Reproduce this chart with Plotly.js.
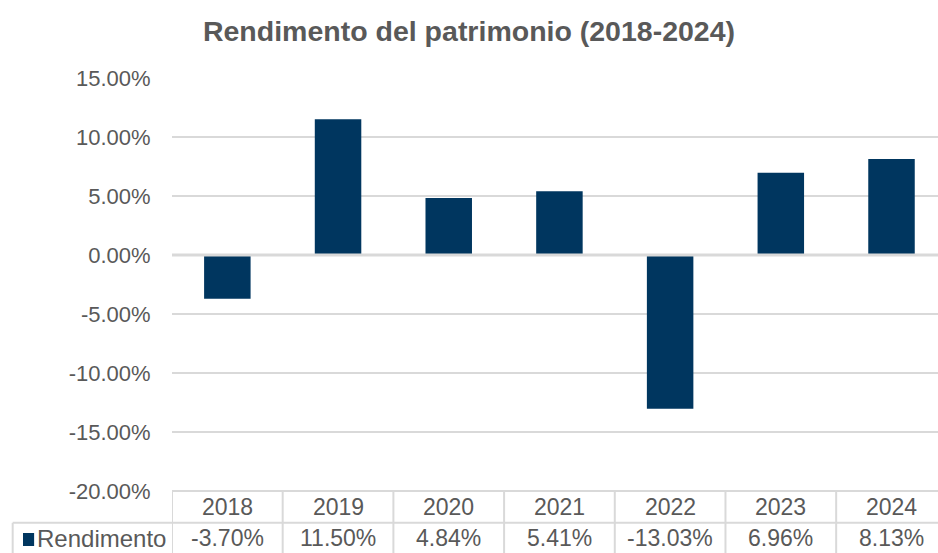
<!DOCTYPE html>
<html>
<head>
<meta charset="utf-8">
<script src="https://cdn.plot.ly/plotly-3.0.1.min.js"></script>
<style>html,body{margin:0;padding:0;background:#fff;}#chart{width:938px;height:553px;}</style>
</head>
<body>
<div id="chart"></div>
<script>
var years = ["2018", "2019", "2020", "2021", "2022", "2023", "2024"];
var rendimento = [-3.70, 11.50, 4.84, 5.41, -13.03, 6.96, 8.13];
var seriesName = "Rendimento";
var yTicks = [15, 10, 5, 0, -5, -10, -15, -20];

var barColor = "#00365F";
var textColor = "#595959";
var gridColor = "#D9D9D9";
var FONT = "Liberation Sans, Arial, sans-serif";

var yTickText = yTicks.map(function (v) { return v.toFixed(2) + "%"; });

var trace = {
  type: "bar",
  x: years,
  y: rendimento,
  name: seriesName,
  marker: { color: barColor },
  width: 0.42,
  hoverinfo: "skip"
};

var row1Bottom = -0.077;
var row2Bottom = -0.152;
var shapes = [];
shapes.push({ type: "line", xref: "paper", yref: "y", x0: 0, x1: 1, y0: 0, y1: 0,
  line: { color: gridColor, width: 3 }, layer: "above" });
// table top border
shapes.push({ type: "line", xref: "paper", yref: "paper", x0: 0, x1: 1, y0: 0, y1: 0,
  line: { color: gridColor, width: 2 }, layer: "above" });
shapes.push({ type: "line", xref: "paper", yref: "paper", x0: -0.208, x1: 1, y0: row1Bottom, y1: row1Bottom,
  line: { color: gridColor, width: 2 }, layer: "above" });
shapes.push({ type: "line", xref: "paper", yref: "paper", x0: -0.208, x1: -0.208, y0: row1Bottom, y1: row2Bottom - 0.02,
  line: { color: gridColor, width: 2 }, layer: "above" });
for (var i = 0; i < years.length; i++) {
  shapes.push({ type: "line", xref: "x", yref: "paper", x0: i - 0.5, x1: i - 0.5, y0: 0, y1: row2Bottom - 0.02,
    line: { color: gridColor, width: 2 }, layer: "above" });
}
// legend key
shapes.push({ type: "rect", xref: "paper", yref: "paper",
  x0: -0.1945, x1: -0.1800, y0: -0.1332, y1: -0.1017,
  fillcolor: barColor, line: { width: 0 } });

var annotations = [];
for (var j = 0; j < years.length; j++) {
  annotations.push({ xref: "x", yref: "paper", x: j, y: 0, yanchor: "middle", yshift: -16,
    text: years[j], showarrow: false, font: { family: FONT, size: 23, color: textColor } });
  annotations.push({ xref: "x", yref: "paper", x: j, y: 0, yanchor: "middle", yshift: -47,
    text: rendimento[j].toFixed(2) + "%", showarrow: false, font: { family: FONT, size: 23, color: textColor } });
}
annotations.push({ xref: "paper", yref: "paper", x: -0.1785, xanchor: "left", y: 0, yanchor: "middle", yshift: -47,
  text: seriesName, showarrow: false, font: { family: FONT, size: 24, color: textColor } });

var layout = {
  width: 938,
  height: 553,
  margin: { l: 172, r: 0, t: 78, b: 62, pad: 0 },
  paper_bgcolor: "#ffffff",
  plot_bgcolor: "#ffffff",
  showlegend: false,
  title: {
    text: "<b>Rendimento del patrimonio (2018-2024)</b>",
    x: 0.5, xref: "container", xanchor: "center",
    y: 1 - 31 / 553, yref: "container", yanchor: "middle",
    font: { family: FONT, size: 28.5, color: textColor }
  },
  xaxis: {
    type: "category",
    range: [-0.5, 6.42],
    showticklabels: false,
    showgrid: false,
    zeroline: false,
    showline: false,
    ticks: ""
  },
  yaxis: {
    range: [-20, 15],
    tickvals: yTicks,
    ticktext: yTickText,
    showgrid: true,
    gridcolor: gridColor,
    gridwidth: 2,
    zeroline: false,
    showline: false,
    ticks: "outside",
    ticklen: 16,
    tickcolor: "rgba(0,0,0,0)",
    tickfont: { family: FONT, size: 22, color: textColor }
  },
  shapes: shapes,
  annotations: annotations
};

Plotly.newPlot("chart", [trace], layout, { displayModeBar: false, staticPlot: true });
</script>
</body>
</html>
